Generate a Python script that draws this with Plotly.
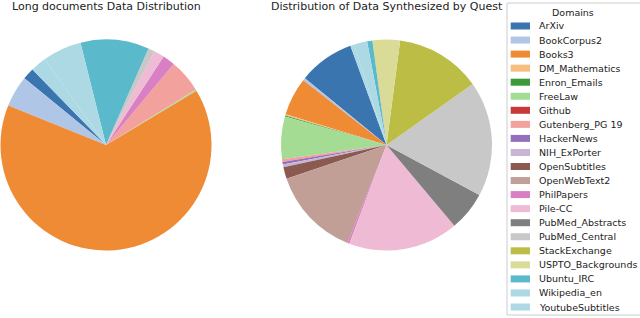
import plotly.graph_objects as go

W, H = 640, 318

domains = ["ArXiv", "BookCorpus2", "Books3", "DM_Mathematics", "Enron_Emails", "FreeLaw",
           "Github", "Gutenberg_PG 19", "HackerNews", "NIH_ExPorter", "OpenSubtitles",
           "OpenWebText2", "PhilPapers", "Pile-CC", "PubMed_Abstracts", "PubMed_Central",
           "StackExchange", "USPTO_Backgrounds", "Ubuntu_IRC", "Wikipedia_en", "YoutubeSubtitles"]

long_docs = [1.8, 4.8, 64.8, 0.0, 0.0, 0.2, 0.0, 5.1, 0.0, 0.0, 0.0,
             0.0, 1.9, 1.6, 0.0, 1.0, 0.0, 0.0, 10.5, 6.0, 2.4]

quest = [8.5, 0.4, 5.8, 0.2, 0.15, 6.5, 0.0, 0.4, 0.4, 0.4, 1.8,
         13.75, 0.3, 16.8, 6.0, 17.6, 13.1, 4.2, 0.8, 2.0, 0.6]

colors = ["#3a75af", "#b0c6e6", "#ef8a35", "#f9bd80", "#3b9b3b", "#a5dc94", "#c9393a",
          "#f3a19c", "#9470bb", "#c6b5d6", "#8a5a50", "#c19f97", "#d97fc3", "#efbad3",
          "#7f7f7f", "#c8c8c8", "#bcbd45", "#dadb97", "#5ab9cb", "#acd9e3", "#acd9e3"]

titles = ["Long documents Data Distribution", "Distribution of Data Synthesized by Quest"]
legend_title = "Domains"

FONT = "DejaVu Sans"

fig = go.Figure()

R = 105.5
CY = 145
centers = [106, 386.5]
for cx, vals in zip(centers, [long_docs, quest]):
    fig.add_trace(go.Pie(
        labels=domains, values=vals, sort=False, direction="counterclockwise",
        rotation=-50.7, textinfo="none", hoverinfo="label+percent",
        marker=dict(colors=colors, line=dict(width=0)), showlegend=False,
        domain=dict(x=[(cx - R) / W, (cx + R) / W], y=[1 - (CY + R) / H, 1 - (CY - R) / H]),
    ))

annotations = []
for cx, t in zip(centers, titles):
    annotations.append(dict(text=t, x=cx / W, y=1 - 7 / H, xref="paper", yref="paper",
                            xanchor="center", yanchor="middle", showarrow=False,
                            font=dict(family=FONT, size=11, color="#222")))

shapes = []
# legend frame
shapes.append(dict(type="rect", xref="paper", yref="paper", x0=507 / W, x1=660 / W,
                   y0=1 - 315 / H, y1=1 - 3 / H, fillcolor="rgba(255,255,255,0.85)",
                   line=dict(color="#cccccc", width=1), layer="above"))
annotations.append(dict(text=legend_title, x=573 / W, y=1 - 12.5 / H, xref="paper", yref="paper",
                        xanchor="center", yanchor="middle", showarrow=False,
                        font=dict(family=FONT, size=9.5, color="#222")))
y0, step = 26, 14.05
for i, (name, c) in enumerate(zip(domains, colors)):
    yc = y0 + i * step
    shapes.append(dict(type="rect", xref="paper", yref="paper", x0=510.7 / W, x1=530 / W,
                       y0=1 - (yc + 3.5) / H, y1=1 - (yc - 3.5) / H, fillcolor=c,
                       line=dict(width=0), layer="above"))
    annotations.append(dict(text=name, x=536.5 / W, y=1 - yc / H, xref="paper", yref="paper",
                            xanchor="left", yanchor="middle", showarrow=False,
                            font=dict(family=FONT, size=9.5, color="#222")))

fig.update_layout(width=W, height=H, margin=dict(l=0, r=0, t=0, b=0),
                  paper_bgcolor="white", plot_bgcolor="white",
                  shapes=shapes, annotations=annotations, showlegend=False)

fig.write_html("out.html", config={"displayModeBar": False},
               post_script="document.body.style.margin='0';document.body.style.padding='0';")
